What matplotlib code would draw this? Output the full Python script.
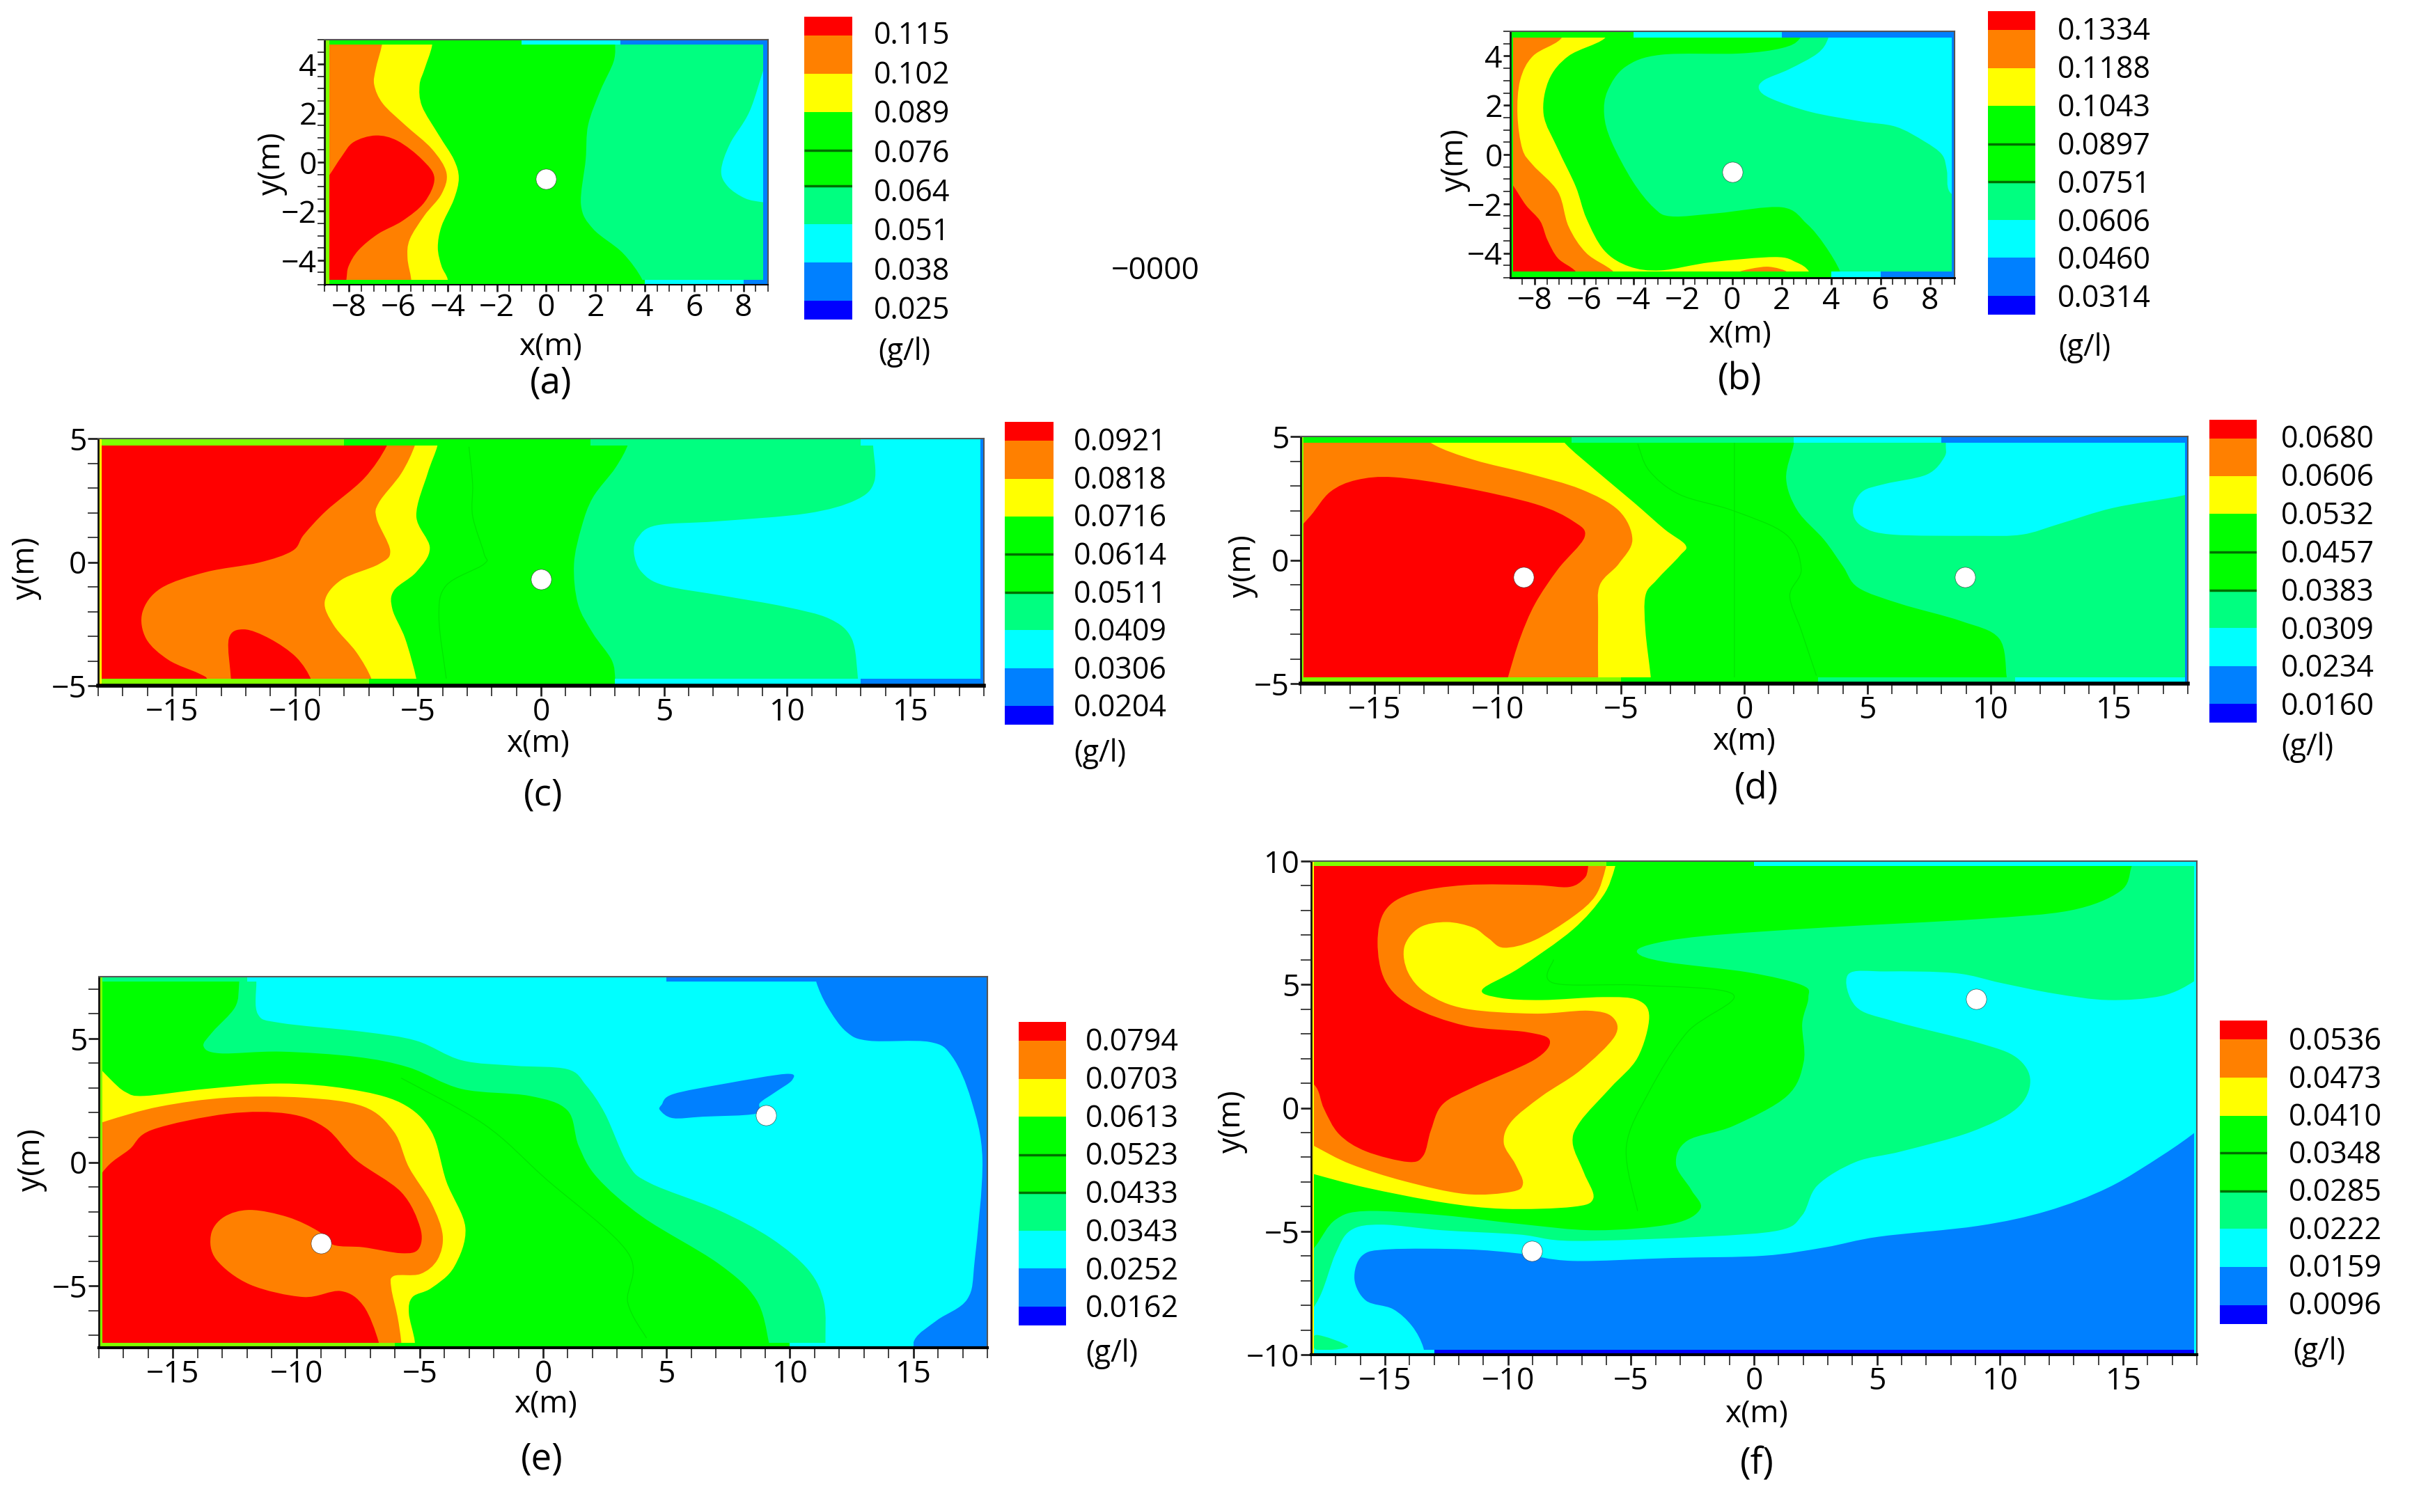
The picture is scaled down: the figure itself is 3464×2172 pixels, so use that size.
import matplotlib

matplotlib.use("Agg")

import matplotlib.pyplot as plt
import numpy as np
from matplotlib.cm import ScalarMappable
from matplotlib.colors import BoundaryNorm, ListedColormap
from matplotlib.patches import PathPatch
from matplotlib.path import Path

WIDTH = 3464
HEIGHT = 2172
FONT = ["Open Sans", "DejaVu Sans"]
LABEL_SIZE = 32
BAR_SIZE = 31
CAPTION_SIZE = 38

RED = "#ff0000"
ORANGE = "#ff8000"
YELLOW = "#ffff00"
GREEN = "#00ff00"
SPRING = "#00ff80"
CYAN = "#00ffff"
AZURE = "#0080ff"
BLUE = "#0000ff"
LIME = "#80ff00"
FAINT = "#00e600"
BAR_COLORS = [BLUE, AZURE, CYAN, SPRING, GREEN, GREEN, YELLOW, ORANGE, RED]

# colour bar labels, bottom to top
A_LEVELS = ["0.025", "0.038", "0.051", "0.064", "0.076", "0.089", "0.102", "0.115"]
B_LEVELS = ["0.0314", "0.0460", "0.0606", "0.0751", "0.0897", "0.1043", "0.1188", "0.1334"]
C_LEVELS = ["0.0204", "0.0306", "0.0409", "0.0511", "0.0614", "0.0716", "0.0818", "0.0921"]
D_LEVELS = ["0.0160", "0.0234", "0.0309", "0.0383", "0.0457", "0.0532", "0.0606", "0.0680"]
E_LEVELS = ["0.0162", "0.0252", "0.0343", "0.0433", "0.0523", "0.0613", "0.0703", "0.0794"]
F_LEVELS = ["0.0096", "0.0159", "0.0222", "0.0285", "0.0348", "0.0410", "0.0473", "0.0536"]

# sampler positions in metres
A_SOURCES = [(0.0, -0.67)]
B_SOURCES = [(0.0, -0.7)]
C_SOURCES = [(0.0, -0.68)]
D_SOURCES = [(-8.95, -0.69), (8.95, -0.69)]
E_SOURCES = [(-8.99, -3.29), (9.02, 1.91)]
F_SOURCES = [(-9.02, -5.79), (9.02, 4.42)]

# contour boundaries, in metres
A_CYAN = [(9.5, 5.2), (8.9, 4.0), (8.25, 2.07), (7.46, 0.76), (7.1, -0.33), (7.36, -0.98), (8.06, -1.47), (8.77, -1.63), (9.5, -1.7)]
A_GREEN = [(2.85, 5.5), (2.8, 5), (2.74, 4.13), (2.2, 2.93), (1.7, 1.52), (1.6, 0.11), (1.41, -1.74), (1.9, -2.72), (3.1, -3.7), (3.89, -4.78), (4.0, -5.5)]
A_YELLOW = [(-4.6, 5.5), (-4.64, 4.73), (-4.94, 3.8), (-5.14, 3.15), (-5.04, 2.28), (-4.35, 1.09), (-3.75, 0.11), (-3.55, -0.65), (-3.75, -1.52), (-4.25, -2.61), (-4.4, -3.48), (-4.25, -4.24), (-4.0, -4.78), (-3.95, -5.5)]
A_ORANGE = [(-6.6, 5.5), (-6.67, 4.78), (-6.92, 3.8), (-6.98, 3.15), (-6.63, 2.39), (-5.73, 1.52), (-4.64, 0.54), (-4.05, -0.43), (-4.25, -1.3), (-4.94, -2.17), (-5.54, -3.15), (-5.63, -3.91), (-5.48, -4.78), (-5.45, -5.5)]
A_RED = [(-9.3, -1.2), (-8.81, -0.54), (-8.31, 0.22), (-7.82, 0.82), (-6.92, 1.09), (-6.03, 0.87), (-5.04, 0.11), (-4.54, -0.65), (-4.94, -1.63), (-5.83, -2.39), (-6.83, -2.93), (-7.62, -3.59), (-8.02, -4.24), (-8.11, -4.78), (-8.2, -5.5)]

B_SPRING = [(4.0, 5.5), (3.88, 4.7), (3.45, 4.1), (2.3, 3.46), (1.29, 3.02), (1.09, 2.65), (1.58, 2.27), (3.17, 1.73), (5.18, 1.35), (6.62, 1.13), (7.77, 0.54), (8.49, 0), (8.69, -0.65), (8.8, -1.51), (9.6, -2)]
B_GREEN = [(2.9, 5.5), (2.73, 4.7), (2.01, 4.32), (0.29, 4.1), (-2.88, 4.05), (-4.32, 3.56), (-5.04, 2.59), (-5.18, 1.62), (-4.89, 0.54), (-4.03, -1.08), (-3.17, -2.16), (-2.45, -2.51), (-0.58, -2.38), (2.01, -2.14), (3.02, -2.81), (3.74, -3.67), (4.37, -4.75), (4.45, -5.5)]
B_YELLOW = [(-4.8, 5.5), (-5.18, 4.7), (-6.62, 4.0), (-7.42, 3.02), (-7.63, 1.62), (-7.05, 0.22), (-6.33, -1.3), (-5.9, -2.59), (-5.18, -3.89), (-4.17, -4.54), (-2.88, -4.7), (-0.86, -4.37), (1.73, -4.16), (2.59, -4.37), (3.11, -4.75), (3.3, -5.5)]
B_ORANGE = [(-6.6, 5.5), (-6.96, 4.67), (-8.06, 4), (-8.58, 3.02), (-8.69, 1.62), (-8.49, 0.22), (-8.06, -0.43), (-7.05, -1.51), (-6.62, -2.92), (-5.9, -4), (-4.81, -4.75), (-4.5, -5.5)]
B_RED = [(-9.3, -0.9), (-8.92, -1.19), (-8.35, -2.05), (-7.77, -2.7), (-7.48, -3.46), (-7.05, -4.21), (-6.33, -4.75), (-6.0, -5.5)]
B_SPOT = [(0.3, -4.76), (1.4, -4.55), (2.2, -4.76), (1.2, -4.85)]

C_SPRING = [(13.45, 5.5), (13.49, 4.78), (13.55, 3.27), (12.79, 2.51), (10.8, 1.97), (7.14, 1.65), (4.7, 1.49), (3.94, 1), (3.78, 0.36), (4.09, -0.4), (5, -0.94), (7.45, -1.37), (9.89, -1.8), (11.72, -2.29), (12.63, -3.1), (12.88, -4.71), (12.9, -5.5)]
C_GREEN = [(3.6, 5.5), (3.54, 4.78), (3.02, 3.81), (2.11, 2.62), (1.65, 1.43), (1.34, -0.08), (1.5, -1.69), (2.11, -2.88), (2.87, -3.96), (3.02, -4.77), (3.05, -5.5)]
C_YELLOW = [(-4.15, 5.5), (-4.21, 4.72), (-4.61, 3.59), (-5.07, 1.87), (-4.52, 0.57), (-5.07, -0.4), (-5.98, -1.15), (-6.04, -1.91), (-5.52, -3.1), (-5.07, -4.71), (-5.0, -5.5)]
C_ORANGE = [(-5.0, 5.5), (-5.13, 4.72), (-5.68, 3.59), (-6.59, 2.41), (-6.68, 1.76), (-6.13, 0.46), (-6.59, -0.08), (-8.12, -0.72), (-8.79, -1.59), (-8.42, -2.56), (-7.51, -3.64), (-6.9, -4.71), (-6.8, -5.5)]
C_RED = [(-6.1, 5.5), (-6.29, 4.67), (-7.2, 3.38), (-8.73, 2.08), (-9.64, 1.11), (-10.1, 0.46), (-11.47, -0.02), (-13.61, -0.4), (-15.44, -1.05), (-16.2, -2.02), (-16.05, -3.1), (-15.14, -3.96), (-13.92, -4.5), (-13.55, -4.77), (-13.5, -5.5)]
C_LOBE = [(-12.6, -5.5), (-12.6, -4.77), (-12.69, -3.1), (-12.08, -2.72), (-11.02, -3.1), (-9.95, -3.85), (-9.34, -4.77), (-9.3, -5.5)]
C_LINE = [(-2.93, 4.67), (-2.78, 3.16), (-2.78, 1.87), (-2.32, 0.36), (-2.32, -0.08), (-3.85, -0.94), (-4.15, -2.23), (-3.85, -4.71)]

D_CYAN = [(8.2, 5.5), (8.18, 4.7), (8.12, 4.16), (7.41, 3.46), (5.71, 3.08), (4.78, 2.76), (4.41, 2), (4.78, 1.36), (6.02, 1.03), (9.41, 0.98), (11.27, 1.03), (12.81, 1.47), (14.97, 2.11), (17.75, 2.6), (18.6, 2.9)]
D_GREEN = [(2.1, 5.5), (2.01, 4.7), (1.7, 3.3), (2.16, 2), (3.24, 0.82), (4.01, -0.26), (4.63, -1.12), (6.33, -1.77), (8.8, -2.47), (10.34, -3.17), (10.65, -4.73), (10.7, -5.5)]
D_YELLOW = [(-7.8, 5.5), (-7.25, 4.7), (-6.02, 3.62), (-4.48, 2.33), (-3.24, 1.25), (-2.38, 0.6), (-2.62, 0.17), (-3.55, -0.8), (-4.01, -1.44), (-4.01, -2.84), (-3.8, -4.68), (-3.75, -5.5)]
D_ORANGE = [(-13.4, 5.5), (-12.65, 4.7), (-10.96, 4.05), (-8.8, 3.51), (-6.64, 2.87), (-5.09, 2), (-4.54, 0.82), (-5.09, -0.15), (-5.86, -1.01), (-5.93, -2.31), (-5.93, -4.68), (-5.93, -5.5)]
D_RED = [(-18.5, 0.8), (-17.6, 1.79), (-16.8, 2.76), (-15.73, 3.24), (-14.2, 3.35), (-11.57, 2.97), (-8.49, 2.27), (-6.94, 1.57), (-6.48, 0.93), (-7.56, -0.37), (-8.49, -1.77), (-9.1, -3.17), (-9.57, -4.68), (-9.8, -5.5)]
D_LINE = [(-4.32, 4.7), (-3.86, 3.62), (-2.62, 2.65), (-0.46, 2), (1.7, 1.03), (2.31, -0.37), (1.85, -1.44), (2.31, -2.84), (2.93, -4.68)]
D_SEAM = [(-0.4, 4.8), (-0.4, -4.8)]

E_TOP_RIGHT = [(11, 8), (11.07, 7.28), (11.53, 6.27), (12.29, 5.27), (13.21, 4.91), (15.66, 4.86), (16.58, 4.26), (17.34, 2.53), (17.8, 0.09), (17.49, -3.94), (17.19, -5.53), (15.96, -6.39), (15.05, -7.18), (15, -8.2)]
E_PATCH = [(4.8, 2.32), (5.26, 2.75), (7.4, 3.18), (9.85, 3.57), (10.09, 3.32), (9.39, 2.82), (8.78, 2.39), (8.62, 1.96), (6.48, 1.84), (5.26, 1.78), (4.74, 2.1)]
E_SPRING = [(-11.6, 8.2), (-11.62, 7.28), (-11.56, 5.99), (-10.64, 5.63), (-7.28, 5.27), (-5.14, 4.91), (-3.3, 4.12), (-1.16, 3.9), (0.98, 3.76), (1.74, 3.11), (2.51, 1.96), (3.43, -0.06), (4.34, -0.85), (7.09, -1.93), (9.24, -3.08), (10.76, -4.37), (11.38, -5.67), (11.44, -7.32), (11.45, -8.2)]
E_GREEN = [(-12.3, 8.2), (-12.32, 7.21), (-12.48, 6.27), (-13.39, 5.27), (-13.76, 4.69), (-13.09, 4.4), (-10.64, 4.47), (-7.58, 4.26), (-5.44, 3.83), (-3.3, 2.96), (-0.55, 2.68), (0.98, 2.1), (1.44, 0.66), (2.2, -0.63), (4.04, -2.22), (7.09, -4.09), (8.62, -5.53), (9.14, -7.25), (9.2, -8.2)]
E_YELLOW = [(-18.6, 4.5), (-17.58, 3.4), (-16.91, 2.83), (-16.15, 2.68), (-13.7, 2.96), (-10.64, 3.18), (-7.89, 2.96), (-5.75, 2.39), (-4.53, 1.24), (-3.92, -0.78), (-3.15, -2.65), (-3.61, -4.24), (-4.53, -5.09), (-5.29, -5.45), (-5.44, -6.1), (-5.2, -7.25), (-5.2, -8.2)]
E_ORANGE = [(-18.6, 1.3), (-17.68, 1.67), (-15.53, 2.25), (-12.78, 2.61), (-9.72, 2.61), (-7.28, 2.25), (-6.05, 1.24), (-5.44, -0.2), (-4.53, -1.65), (-4.07, -2.94), (-4.28, -3.94), (-4.98, -4.52), (-6.05, -4.6), (-6.15, -5.09), (-5.9, -6.24), (-5.75, -7.25), (-5.7, -8.2)]
E_RED = [(-18.6, -1.5), (-17.68, -0.2), (-16.76, 0.52), (-15.84, 1.31), (-12.78, 1.96), (-10.34, 1.96), (-8.81, 1.38), (-7.58, 0.09), (-5.75, -1.21), (-4.98, -2.65), (-5.05, -3.51), (-5.75, -3.68), (-7.28, -3.44), (-8.5, -3.34), (-9.11, -2.79), (-10.34, -2.22), (-11.87, -1.93), (-12.94, -2.22), (-13.46, -2.94), (-13.24, -3.94), (-11.87, -4.95), (-9.72, -5.45), (-8.2, -5.21), (-7.28, -5.81), (-6.67, -7.25), (-6.6, -8.2)]
E_LINE = [(-5.75, 3.4), (-2.39, 1.53), (0.06, -0.63), (3.43, -3.65), (3.43, -5.67), (4.19, -7.11)]

F_BLUE = [(18.6, -0.3), (18.04, -0.9), (16.58, -1.93), (14.4, -3.23), (11.91, -4.18), (9.11, -4.78), (5.07, -5.22), (2.89, -5.65), (0.4, -5.99), (-3.33, -6.08), (-7.37, -6.2), (-9.55, -5.9), (-11.73, -5.73), (-14.84, -5.73), (-15.93, -5.99), (-16.24, -6.94), (-15.77, -7.81), (-14.68, -8.15), (-13.9, -8.84), (-13.44, -9.71), (-13.4, -10.5)]
F_SPRING = [(18.6, 5.8), (17.92, 5.15), (16.58, 4.54), (14.4, 4.37), (12.22, 4.63), (10.05, 5.06), (8.18, 5.46), (5.38, 5.53), (3.83, 5.41), (4.14, 4.11), (5.69, 3.51), (9.11, 2.64), (10.67, 2.04), (11.23, 1.09), (10.67, -0.03), (8.8, -0.98), (6, -1.76), (4.14, -2.19), (2.58, -3.14), (1.96, -4.35), (1.03, -4.96), (-2.08, -5.22), (-7.37, -5.39), (-9.55, -5.13), (-12.66, -4.96), (-15.15, -4.73), (-16.39, -4.96), (-17.01, -5.91), (-17.64, -7.63), (-18.5, -9)]
F_CORNER = [(-17.8, -9.2), (-16.5, -9.67), (-17.8, -9.79)]
F_GREEN = [(15.45, 10.6), (15.33, 9.72), (14.87, 8.77), (12.85, 8), (9.11, 7.65), (2.89, 7.31), (-2.08, 6.96), (-4.26, 6.61), (-4.73, 6.27), (-3.64, 5.92), (-0.22, 5.49), (1.96, 4.97), (2.21, 4.46), (1.96, 3.42), (2.02, 1.87), (1.34, 0.48), (-0.84, -0.73), (-2.71, -1.33), (-3.17, -2.28), (-2.55, -3.32), (-2.18, -4.09), (-3.33, -4.7), (-6.44, -4.96), (-9.55, -4.7), (-12.66, -4.35), (-15.77, -4.18), (-17.01, -4.53), (-17.79, -5.56), (-18.5, -6.5)]
F_YELLOW = [(-5.5, 10.6), (-5.66, 9.72), (-6.13, 8.6), (-7.37, 7.22), (-9.55, 5.66), (-11.04, 4.8), (-10.33, 4.46), (-8.62, 4.37), (-6.13, 4.49), (-4.73, 4.37), (-4.26, 3.68), (-4.73, 2.04), (-5.82, 0.83), (-7.06, -0.55), (-7.37, -1.42), (-6.91, -2.63), (-6.53, -3.66), (-7.37, -4.01), (-10.17, -4.09), (-12.66, -3.83), (-15.77, -3.23), (-17.79, -2.71), (-18.5, -2.5)]
F_ORANGE = [(-5.9, 10.6), (-6.03, 9.72), (-6.44, 8.6), (-7.37, 7.74), (-8.93, 6.79), (-10.17, 6.49), (-10.79, 6.87), (-11.42, 7.31), (-12.5, 7.53), (-13.59, 7.31), (-14.21, 6.53), (-14.06, 5.49), (-13.28, 4.63), (-11.73, 4.02), (-8.93, 3.82), (-6.75, 3.94), (-5.75, 3.68), (-5.66, 2.9), (-7.06, 1.52), (-8.62, 0.48), (-9.86, -0.55), (-10.17, -1.42), (-9.7, -2.28), (-9.39, -3.06), (-9.86, -3.4), (-11.73, -3.49), (-14.21, -2.97), (-16.39, -2.28), (-17.79, -1.59), (-18.5, -1.2)]
F_RED = [(-6.7, 10.6), (-6.75, 9.72), (-6.91, 9.29), (-7.53, 8.95), (-8.93, 9.03), (-11.73, 9.03), (-13.9, 8.69), (-14.99, 8), (-15.3, 6.7), (-14.99, 5.15), (-13.9, 4.11), (-11.73, 3.33), (-9.24, 3.07), (-8.3, 2.73), (-8.93, 1.95), (-11.42, 0.83), (-12.66, 0.14), (-13.13, -0.9), (-13.44, -1.93), (-14.06, -2.19), (-15.77, -1.76), (-16.86, -1.07), (-17.48, -0.03), (-17.79, 0.83), (-18.5, 1.5)]
F_LINE = [(-8.15, 6.01), (-8.15, 5.06), (-4.57, 4.97), (-0.84, 4.59), (-2.71, 3.07), (-4.26, 0.66), (-5.19, -1.59), (-4.73, -4.18)]

# thin bands along the walls: start, end, colour
A_TOP_EDGE = [(-9, -1, GREEN), (-1, 3, CYAN), (3, 9, AZURE)]
A_BOTTOM_EDGE = [(-9, 4, GREEN), (4, 8, CYAN), (8, 9, AZURE)]
B_TOP_EDGE = [(-9, -4, GREEN), (-4, 2, CYAN), (2, 9, AZURE)]
B_BOTTOM_EDGE = [(-9, 4, GREEN), (4, 6, CYAN), (6, 9, AZURE)]
C_TOP_EDGE = [(-18, -8, LIME), (-8, 2, GREEN), (2, 13, SPRING), (13, 18, CYAN)]
C_BOTTOM_EDGE = [(-18, -7, LIME), (-7, 3, GREEN), (3, 13, CYAN), (13, 18, AZURE)]
D_TOP_EDGE = [(-18, -7, GREEN), (-7, 2, SPRING), (2, 8, CYAN), (8, 18, AZURE)]
D_BOTTOM_EDGE = [(-18, -5, LIME), (-5, 3, GREEN), (3, 11, SPRING), (11, 18, CYAN)]
E_TOP_EDGE = [(-18, -12, SPRING), (-12, 5, CYAN), (5, 18, AZURE)]
E_BOTTOM_EDGE = [(-18, -6, LIME), (-6, 10, GREEN), (10, 15, CYAN), (15, 18, AZURE)]
F_TOP_EDGE = [(-18, -6, LIME), (-6, 0, GREEN), (0, 18, CYAN)]
F_BOTTOM_EDGE = [(-18, -13, CYAN), (-13, 18, BLUE)]

LEFT = [(-99, -99), (-99, 99)]
RIGHT = [(99, -99), (99, 99)]
UP_LEFT = [(-99, 99)]
UP_RIGHT = [(99, 99)]
DOWN_RIGHT = [(99, -99)]
LEFT_DOWN = [(99, -99), (-99, -99), (-99, 99)]
AROUND = [(-99, 99), (99, 99)]

A_REGIONS = [
    (A_CYAN, RIGHT, CYAN), (A_GREEN, LEFT, GREEN), (A_YELLOW, LEFT, YELLOW),
    (A_ORANGE, LEFT, ORANGE), (A_RED, LEFT, RED),
]
B_REGIONS = [
    (B_SPRING, LEFT_DOWN, SPRING), (B_GREEN, LEFT, GREEN), (B_YELLOW, LEFT, YELLOW),
    (B_ORANGE, LEFT, ORANGE), (B_RED, LEFT, RED), (B_SPOT, None, ORANGE),
]
C_REGIONS = [
    (C_SPRING, LEFT, SPRING), (C_GREEN, LEFT, GREEN), (C_YELLOW, LEFT, YELLOW),
    (C_ORANGE, LEFT, ORANGE), (C_RED, LEFT, RED), (C_LOBE, DOWN_RIGHT, RED),
]
D_REGIONS = [
    (D_CYAN, UP_RIGHT, CYAN), (D_GREEN, LEFT, GREEN), (D_YELLOW, LEFT, YELLOW),
    (D_ORANGE, LEFT, ORANGE), (D_RED, LEFT, RED),
]
E_REGIONS = [
    (E_TOP_RIGHT, RIGHT, AZURE), (E_PATCH, None, AZURE), (E_SPRING, LEFT, SPRING),
    (E_GREEN, LEFT, GREEN), (E_YELLOW, LEFT, YELLOW), (E_ORANGE, LEFT, ORANGE), (E_RED, LEFT, RED),
]
F_REGIONS = [
    (F_BLUE, DOWN_RIGHT, AZURE), (F_SPRING, AROUND, SPRING), (F_CORNER, None, SPRING),
    (F_GREEN, UP_LEFT, GREEN), (F_YELLOW, UP_LEFT, YELLOW), (F_ORANGE, UP_LEFT, ORANGE),
    (F_RED, UP_LEFT, RED),
]


def curve_segments(points, closed):
    pts = np.array(points, dtype=float)
    n = len(pts)
    verts = []
    count = n if closed else n - 1
    for i in range(count):
        if closed:
            p0, p1, p2, p3 = pts[i - 1], pts[i], pts[(i + 1) % n], pts[(i + 2) % n]
        else:
            p0, p1, p2, p3 = pts[max(i - 1, 0)], pts[i], pts[i + 1], pts[min(i + 2, n - 1)]
        verts.extend([p1 + (p2 - p0) / 6.0, p2 - (p3 - p1) / 6.0, p2])
    return pts[0], verts


def region_path(points, closing):
    start, verts = curve_segments(points, closing is None)
    all_verts = [start] + verts
    codes = [Path.MOVETO] + [Path.CURVE4] * len(verts)
    if closing is not None:
        all_verts += list(closing)
        codes += [Path.LINETO] * len(closing)
    all_verts.append(start)
    codes.append(Path.CLOSEPOLY)
    return Path(all_verts, codes)


def line_path(points):
    start, verts = curve_segments(points, False)
    return Path([start] + verts, [Path.MOVETO] + [Path.CURVE4] * len(verts))


def axes_from_pixels(fig, left, right, top, bottom):
    return fig.add_axes([left / WIDTH, 1 - bottom / HEIGHT, (right - left) / WIDTH, (bottom - top) / HEIGHT])


def put_text(fig, x, y, text, size=LABEL_SIZE, rotation=0):
    fig.text(x / WIDTH, 1 - (y + 5) / HEIGHT, text, fontsize=size, rotation=rotation, ha="center", va="center", family=FONT)


def draw_edges(ax, xlim, ylim, top_edge, bottom_edge, depth, right_color, left_color, side):
    for start, end, color in top_edge:
        ax.broken_barh([(start, end - start)], (ylim[1] - depth, depth), facecolors=color, zorder=1.5)
    for start, end, color in bottom_edge:
        ax.broken_barh([(start, end - start)], (ylim[0], depth), facecolors=color, zorder=1.5)
    ax.axvspan(xlim[1] - side, xlim[1], color=right_color, lw=0, zorder=1.6)
    ax.axvspan(xlim[0], xlim[0] + side, color=left_color, lw=0, zorder=1.6)


def draw_panel(fig, box, xlim, ylim, base, regions, lines, sources, xticks, yticks, minor, edges, bottom_lw, tick_len):
    ax = axes_from_pixels(fig, *box)
    ax.set_facecolor(base)
    for points, closing, color in regions:
        ax.add_patch(PathPatch(region_path(points, closing), facecolor=color, edgecolor="none", zorder=1))
    for points in lines:
        ax.add_patch(PathPatch(line_path(points), facecolor="none", edgecolor=FAINT, lw=0.9, zorder=1.2))
    top_edge, bottom_edge, depth, right_color, left_color, side = edges
    draw_edges(ax, xlim, ylim, top_edge, bottom_edge, depth, right_color, left_color, side)
    xs, ys = zip(*sources)
    ax.plot(xs, ys, "o", color="white", ms=21, mec="#333333", mew=0.4, zorder=3, clip_on=False)
    ax.set_xlim(*xlim)
    ax.set_ylim(*ylim)
    ax.set_xticks(xticks)
    ax.set_yticks(yticks)
    ax.set_xticks(np.arange(np.ceil(xlim[0] / minor[0]) * minor[0], xlim[1] + 0.01, minor[0]), minor=True)
    ax.set_yticks(np.arange(np.ceil(ylim[0] / minor[1]) * minor[1], ylim[1] + 0.01, minor[1]), minor=True)
    ax.tick_params(which="both", length=tick_len, width=1.2, color="#222222")
    ax.tick_params(which="major", labelsize=LABEL_SIZE, pad=1, width=2.0)
    for label in ax.get_xticklabels() + ax.get_yticklabels():
        label.set_family(FONT)
    ax.spines["top"].set(color="#555555", linewidth=1.5, zorder=2.5)
    ax.spines["right"].set(color="#555555", linewidth=1.5, zorder=2.5)
    ax.spines["left"].set(color="#111111", linewidth=2.0, zorder=2.5)
    ax.spines["bottom"].set(color="black", linewidth=bottom_lw, zorder=2.5)
    return ax


def draw_bar(fig, box, level_labels, label_x, label_top, label_bottom):
    cax = axes_from_pixels(fig, *box)
    levels = [float(value) for value in level_labels]
    half_step = (levels[1] - levels[0]) / 2.0
    bounds = [levels[0] - half_step] + levels + [levels[-1] + half_step]
    norm = BoundaryNorm(bounds, len(BAR_COLORS))
    mappable = ScalarMappable(norm=norm, cmap=ListedColormap(BAR_COLORS))
    bar = fig.colorbar(mappable, cax=cax, spacing="proportional", drawedges=False)
    bar.outline.set_visible(False)
    bar.set_ticks([])
    bar.ax.minorticks_off()
    bar.ax.hlines([levels[3], levels[4]], 0, 1, transform=bar.ax.get_yaxis_transform(), color="#007000", lw=2.5)
    # the printed labels do not sit exactly on the bar's boundaries
    ys = np.linspace(label_top, label_bottom, len(level_labels))
    for label, y in zip(level_labels[::-1], ys):
        fig.text(label_x / WIDTH, 1 - (y + 5) / HEIGHT, label, fontsize=BAR_SIZE, ha="left", va="center", family=FONT)


def main():
    fig = plt.figure(figsize=(WIDTH / 100, HEIGHT / 100), dpi=100, facecolor="white")

    wide_x = [-15, -10, -5, 0, 5, 10, 15]
    short_x = [-8, -6, -4, -2, 0, 2, 4, 6, 8]
    short_y = [-4, -2, 0, 2, 4]

    draw_panel(fig, (466, 1103, 57, 409), (-9, 9), (-5, 5), SPRING, A_REGIONS, [], A_SOURCES, short_x, short_y, (0.5, 0.5),
               (A_TOP_EDGE, A_BOTTOM_EDGE, 0.2, AZURE, LIME, 0.2), 1.5, 7)
    draw_bar(fig, (1155, 1224, 24, 459), A_LEVELS, 1255, 47, 442)

    draw_panel(fig, (2169, 2807, 45, 399), (-8.98, 9), (-5, 5), CYAN, B_REGIONS, [], B_SOURCES, short_x, short_y, (0.5, 0.5),
               (B_TOP_EDGE, B_BOTTOM_EDGE, 0.25, AZURE, GREEN, 0.1), 2.0, 7)
    draw_bar(fig, (2855, 2923, 16, 452), B_LEVELS, 2955, 41, 425)

    draw_panel(fig, (141, 1413, 630, 985), (-18, 18), (-5, 5), CYAN, C_REGIONS, [C_LINE], C_SOURCES, wide_x, [-5, 0, 5], (1, 1),
               (C_TOP_EDGE, C_BOTTOM_EDGE, 0.27, AZURE, YELLOW, 0.15), 4.0, 11)
    draw_bar(fig, (1443, 1513, 606, 1041), C_LEVELS, 1542, 631, 1013)

    draw_panel(fig, (1868, 3142, 627, 982), (-18, 18), (-5, 5), SPRING, D_REGIONS, [D_LINE, D_SEAM], D_SOURCES, wide_x, [-5, 0, 5], (1, 1),
               (D_TOP_EDGE, D_BOTTOM_EDGE, 0.25, AZURE, LIME, 0.12), 4.0, 11)
    draw_bar(fig, (3173, 3241, 603, 1038), D_LEVELS, 3276, 627, 1011)

    draw_panel(fig, (142, 1418, 1403, 1936), (-18, 18), (-7.5, 7.5), CYAN, E_REGIONS, [E_LINE], E_SOURCES, wide_x, [-5, 0, 5], (1, 1),
               (E_TOP_EDGE, E_BOTTOM_EDGE, 0.2, AZURE, LIME, 0.15), 3.0, 11)
    draw_bar(fig, (1463, 1531, 1468, 1904), E_LEVELS, 1559, 1493, 1876)

    draw_panel(fig, (1883, 3155, 1237, 1946), (-18, 18), (-10, 10), CYAN, F_REGIONS, [F_LINE], F_SOURCES, wide_x, [-10, -5, 0, 5, 10], (1, 1),
               (F_TOP_EDGE, F_BOTTOM_EDGE, 0.2, CYAN, YELLOW, 0.12), 3.0, 11)
    draw_bar(fig, (3188, 3256, 1466, 1902), F_LEVELS, 3287, 1492, 1872)

    put_text(fig, 791, 493, "x(m)")
    put_text(fig, 2499, 475, "x(m)")
    put_text(fig, 773, 1063, "x(m)")
    put_text(fig, 2505, 1060, "x(m)")
    put_text(fig, 784, 2012, "x(m)")
    put_text(fig, 2523, 2026, "x(m)")
    put_text(fig, 391, 230, "y(m)", rotation=90)
    put_text(fig, 2090, 225, "y(m)", rotation=90)
    put_text(fig, 38, 811, "y(m)", rotation=90)
    put_text(fig, 1785, 808, "y(m)", rotation=90)
    put_text(fig, 46, 1661, "y(m)", rotation=90)
    put_text(fig, 1770, 1606, "y(m)", rotation=90)
    put_text(fig, 1299, 501, "(g/l)", BAR_SIZE)
    put_text(fig, 2994, 495, "(g/l)", BAR_SIZE)
    put_text(fig, 1580, 1078, "(g/l)", BAR_SIZE)
    put_text(fig, 3314, 1069, "(g/l)", BAR_SIZE)
    put_text(fig, 1597, 1940, "(g/l)", BAR_SIZE)
    put_text(fig, 3331, 1937, "(g/l)", BAR_SIZE)
    put_text(fig, 791, 546, "(a)", CAPTION_SIZE)
    put_text(fig, 2499, 541, "(b)", CAPTION_SIZE)
    put_text(fig, 780, 1138, "(c)", CAPTION_SIZE)
    put_text(fig, 2523, 1129, "(d)", CAPTION_SIZE)
    put_text(fig, 778, 2092, "(e)", CAPTION_SIZE)
    put_text(fig, 2523, 2099, "(f)", CAPTION_SIZE)
    put_text(fig, 1659, 385, "\u22120000", LABEL_SIZE)

    fig.savefig("out.png", dpi=100)
    plt.close(fig)


if __name__ == "__main__":
    main()
